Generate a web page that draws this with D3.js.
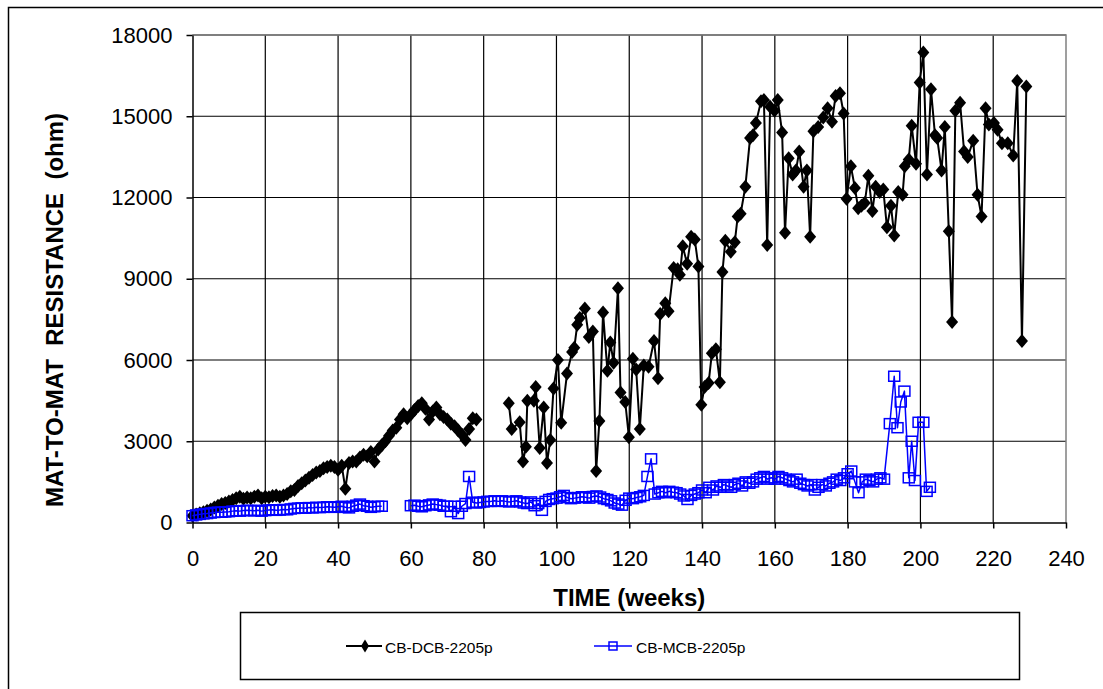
<!DOCTYPE html>
<html>
<head>
<meta charset="utf-8">
<script src="https://cdn.jsdelivr.net/npm/d3@7"></script>
<style>
  html, body { margin: 0; padding: 0; background: #fff; }
  svg { display: block; }
  text { font-family: "Liberation Sans", Arial, sans-serif; }
</style>
</head>
<body>
<svg id="chart" width="1103" height="689"></svg>
<script>
// ---------------- DATA ----------------
const xTicks = [0, 20, 40, 60, 80, 100, 120, 140, 160, 180, 200, 220, 240];
const yTicks = [0, 3000, 6000, 9000, 12000, 15000, 18000];
const seriesNames = ["CB-DCB-2205p", "CB-MCB-2205p"];

// CB-DCB-2205p (null value = break in the line)
const dcbWeeks = [
  0,1,2,3,4,5,6,7,8,9,10,11,12,13,14,15,16,17,18,19,20,21,22,23,24,25,26,27,28,29,
  30,31,32,33,34,35,36,37,38,39,40,41,42,43,44,45,46,47,48,49,50,51,52,53,54,55,56,57,58,59,
  60,61,62,63,64,65,66,67,68,69,70,71,72,73,74,75,76,77,78,
  82,
  86.9,87.7,89.9,90.8,91.6,92.0,93.8,94.3,95.4,96.5,97.4,98.3,99.2,100.4,101.3,102.9,104.3,104.9,105.7,106.4,
  107.8,108.9,110.0,110.9,111.8,112.8,114.0,114.8,115.7,116.9,117.6,118.9,119.9,121.0,121.9,122.9,124.0,125.3,126.8,127.9,
  128.5,129.9,130.8,132.2,133.3,133.9,134.7,135.9,137.0,138.0,139.0,139.8,140.7,141.8,142.7,143.8,144.9,145.6,146.4,147.9,
  149.0,149.8,150.6,151.9,153.2,154.0,154.8,156.2,157.0,157.9,158.7,159.9,160.8,162.0,162.8,163.8,164.9,165.8,166.7,167.9,
  168.8,169.7,170.6,171.9,173.3,174.5,175.7,176.7,177.9,178.9,179.7,180.9,182.0,182.9,183.8,184.7,185.7,186.8,187.7,188.8,
  189.8,190.8,191.9,192.8,193.9,195.1,195.7,196.8,197.6,198.8,199.8,200.8,201.8,202.9,204.0,204.6,205.8,206.7,207.8,208.7,
  209.6,210.9,212.0,213.0,214.5,215.7,216.8,217.9,218.8,220.2,221.2,222.4,224.0,225.5,226.6,227.9,229.1
];
const dcbValues = [
  250,300,340,380,430,480,550,620,680,720,780,830,900,950,880,920,900,950,1000,900,950,930,980,1000,950,1000,1050,1150,1200,1350,
  1450,1550,1650,1750,1850,1900,2000,2050,2100,2050,1950,2100,1250,2200,2250,2250,2400,2500,2450,2600,2250,2700,2850,3000,3200,3400,3500,3800,4000,3850,
  4000,4150,4300,4400,4200,3800,4100,4250,4000,3900,3800,3650,3550,3400,3250,3050,3450,3850,3800,
  null,
  4400,3450,3700,2250,2800,4500,4500,5000,2750,4250,2200,3050,4950,6000,3680,5500,6300,6450,7300,7550,
  7900,6850,7050,1900,3750,7750,5600,6650,5900,8650,4800,4450,3150,6050,5650,3450,5800,5750,6700,5330,
  7700,8100,7800,9400,9350,9150,10200,9550,10550,10450,9450,4350,5000,5150,6250,6400,5180,9250,10400,10000,
  10350,11300,11400,12400,14200,14300,14750,15550,15600,10250,15350,15200,15600,14400,10700,13450,12850,13000,13700,12400,
  13000,10550,14450,14600,14950,15300,14800,15750,15850,15100,11950,13150,12350,11600,11700,11800,12800,11500,12400,12200,
  12300,10900,11700,10600,12200,12100,13150,13400,14650,13250,16250,17350,12850,16000,14300,14200,13000,14600,10750,7400,
  15200,15500,13700,13500,14100,12100,11300,15300,14700,14750,14500,14000,14000,13550,16300,6700,16100
];

// CB-MCB-2205p (null value = break in the line)
const mcbWeeks = [
  0,1,2,3,4,5,6,7,8,9,10,11,12,13,14,15,16,17,18,19,20,21,22,23,24,25,26,27,28,29,
  30,31,32,33,34,35,36,37,38,39,40,41,42,43,44,45,46,47,48,49,50,51,52,
  56,
  60,61,62,63,64,65,66,67,68,69,70,71,72,73,74,75,76,77,78,79,80,81,82,83,84,85,86,87,88,89,
  90,91,92,93,94,95,96,97,98,99,100,101,102,103,104,105,106,107,108,109,110,111,112,113,114,115,116,117,118,119,
  120,121,122,123,124,125,126,127,128,129,130,131,132,133,134,135,136,137,138,139,140,141,142,143,144,145,146,147,148,149,
  150,151,152,153,154,155,156,157,158,159,160,161,162,163,164,165,166,167,168,169,170,171,172,173,174,175,176,177,178,179,
  180,181,182,183,184,185,186,187,188,189,190,191.6,192.8,193.7,194.6,195.6,196.8,197.6,198.5,199.5,200.8,201.7,202.6
];
const mcbValues = [
  250,280,300,320,330,350,370,380,380,390,400,420,430,420,440,450,440,430,450,420,440,460,470,450,460,480,470,500,520,530,
  540,530,550,540,560,550,560,580,570,560,580,600,560,540,600,640,680,620,600,560,580,600,600,
  null,
  620,640,600,580,620,650,680,660,640,600,600,400,600,330,600,700,1700,750,720,740,760,780,780,800,780,800,780,760,780,800,
  760,720,700,760,620,700,450,780,850,880,900,950,1000,920,880,900,920,950,930,900,960,980,940,880,850,800,720,680,640,820,
  900,880,920,950,1000,1700,2350,1050,1100,1150,1100,1150,1120,1100,1050,980,850,1000,1050,1100,1200,1100,1300,1200,1350,1300,1400,1350,1300,1400,
  1450,1350,1500,1450,1500,1600,1650,1700,1600,1650,1600,1700,1650,1600,1550,1500,1600,1450,1400,1350,1400,1200,1300,1400,1350,1450,1500,1600,1550,1650,
  1800,1900,1500,1100,1500,1600,1550,1500,1600,1650,1600,3650,5400,3500,4450,4850,1650,3000,1550,3700,3700,1150,1300
];

// ---------------- CHART ----------------
const svg = d3.select("#chart");
const W = 1103, H = 689;
const plot = { left: 192.5, right: 1066, top: 35, bottom: 522.5 };

const x = d3.scaleLinear().domain([0, 240]).range([plot.left, plot.right]);
const y = d3.scaleLinear().domain([0, 18000]).range([plot.bottom, plot.top]);

// outer chart border
svg.append("rect")
  .attr("x", 8.5).attr("y", 7.5).attr("width", W + 20).attr("height", H + 20)
  .attr("fill", "#fff").attr("stroke", "#000").attr("stroke-width", 1.5);

// gridlines
const grid = svg.append("g");
grid.selectAll("line.h").data(yTicks.filter(v => v > 0)).join("line")
  .attr("x1", plot.left).attr("x2", plot.right)
  .attr("y1", d => y(d)).attr("y2", d => y(d))
  .attr("stroke", "#000").attr("stroke-width", 1.2);
grid.selectAll("line.v").data(xTicks.filter(v => v > 0 && v < 240)).join("line")
  .attr("y1", plot.top).attr("y2", plot.bottom)
  .attr("x1", d => x(d)).attr("x2", d => x(d))
  .attr("stroke", "#000").attr("stroke-width", 1.2);

// gray top/right border of plot area
svg.append("path")
  .attr("d", `M${plot.left},${plot.top}H${plot.right}V${plot.bottom}`)
  .attr("fill", "none").attr("stroke", "#808080").attr("stroke-width", 1.5);

// axes
const tickFont = 22;
const yAxis = svg.append("g").attr("transform", `translate(${plot.left},0)`)
  .call(d3.axisLeft(y).tickValues(yTicks).tickSize(6).tickSizeOuter(0).tickPadding(14).tickFormat(d3.format("d")));
const xAxis = svg.append("g").attr("transform", `translate(0,${plot.bottom})`)
  .call(d3.axisBottom(x).tickValues(xTicks).tickSize(6).tickSizeOuter(0).tickPadding(22).tickFormat(d3.format("d")));
[yAxis, xAxis].forEach(g => {
  g.select(".domain").attr("stroke", "#000").attr("stroke-width", 1.5);
  g.selectAll(".tick line").attr("stroke", "#000").attr("stroke-width", 1.5);
  g.selectAll(".tick text").attr("fill", "#000")
    .style("font-family", '"Liberation Sans", Arial, sans-serif').style("font-size", tickFont + "px");
});

// axis titles
svg.append("text")
  .attr("x", (plot.left + plot.right) / 2).attr("y", 606)
  .attr("text-anchor", "middle").attr("font-weight", "bold").attr("font-size", 24)
  .text("TIME (weeks)");
svg.append("text")
  .attr("transform", `translate(63,${310}) rotate(-90)`)
  .attr("text-anchor", "middle").attr("font-weight", "bold").attr("font-size", 24)
  .attr("xml:space", "preserve")
  .text("MAT-TO-MAT  RESISTANCE  (ohm)");

// series
const dcb = dcbWeeks.map((w, i) => ({ w, v: dcbValues[i] }));
const mcb = mcbWeeks.map((w, i) => ({ w, v: mcbValues[i] }));
const line = d3.line().defined(d => d.v != null).x(d => x(d.w)).y(d => y(d.v));

const diamond = "M0,-7L6,0L0,7L-6,0Z";

svg.append("path").datum(dcb).attr("d", line)
  .attr("fill", "none").attr("stroke", "#000").attr("stroke-width", 2).attr("stroke-linejoin", "round");
svg.append("g").selectAll("path").data(dcb.filter(d => d.v != null)).join("path")
  .attr("d", diamond).attr("transform", d => `translate(${x(d.w)},${y(d.v)})`)
  .attr("fill", "#000");

svg.append("path").datum(mcb).attr("d", line)
  .attr("fill", "none").attr("stroke", "#0000FF").attr("stroke-width", 1.5).attr("stroke-linejoin", "round");
svg.append("g").selectAll("rect").data(mcb.filter(d => d.v != null)).join("rect")
  .attr("x", d => x(d.w) - 5.5).attr("y", d => y(d.v) - 5).attr("width", 11).attr("height", 10)
  .attr("fill", "none").attr("stroke", "#0000FF").attr("stroke-width", 1.5);

// legend
const lg = svg.append("g");
lg.append("rect").attr("x", 240.5).attr("y", 612.5).attr("width", 779).attr("height", 67)
  .attr("fill", "#fff").attr("stroke", "#000").attr("stroke-width", 1.5);
const legY = 646;
lg.append("line").attr("x1", 346).attr("x2", 382).attr("y1", legY).attr("y2", legY)
  .attr("stroke", "#000").attr("stroke-width", 2);
lg.append("path").attr("d", "M0,-6.5L4,0L0,6.5L-4,0Z").attr("transform", `translate(365,${legY})`).attr("fill", "#000");
lg.append("text").attr("x", 385).attr("y", 653).attr("font-size", 15.5).text(seriesNames[0]);
lg.append("line").attr("x1", 594).attr("x2", 632).attr("y1", legY).attr("y2", legY)
  .attr("stroke", "#0000FF").attr("stroke-width", 1.5);
lg.append("rect").attr("x", 609).attr("y", legY - 4).attr("width", 8).attr("height", 8)
  .attr("fill", "none").attr("stroke", "#0000FF").attr("stroke-width", 1.5);
lg.append("text").attr("x", 636).attr("y", 653).attr("font-size", 15.5).text(seriesNames[1]);
</script>
</body>
</html>
